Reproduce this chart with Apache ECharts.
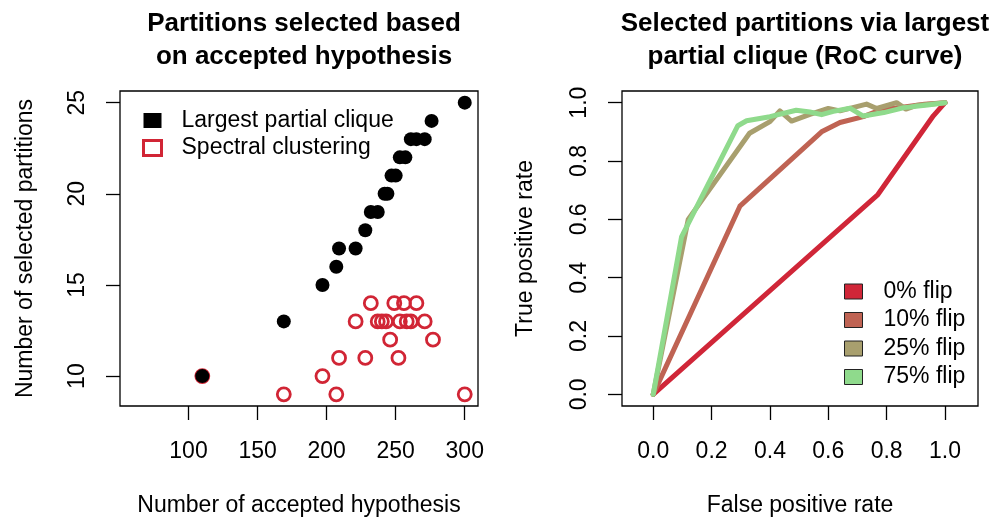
<!DOCTYPE html>
<html>
<head>
<meta charset="utf-8">
<script src="https://cdn.jsdelivr.net/npm/echarts@6/dist/echarts.min.js"></script>
<style>
  html, body { margin: 0; padding: 0; background: #fff; }
  #chart { width: 1002px; height: 519px; }
</style>
</head>
<body>
<div id="chart"></div>
<script>
// left panel: selected partitions vs accepted hypothesis
const cliqueX = [300, 276, 261, 265, 271, 253, 257, 247, 250, 242, 244, 232, 237, 228, 209, 221, 207, 197, 169, 110];
const cliqueY = [25, 24, 23, 23, 23, 22, 22, 21, 21, 20, 20, 19, 19, 18, 17, 17, 16, 15, 13, 10];
const spectralX = [232, 249, 256, 265, 221, 237, 240, 243, 253, 258, 261, 271, 246, 277, 209, 228, 252, 110, 197, 169, 207, 300];
const spectralY = [14, 14, 14, 14, 13, 13, 13, 13, 13, 13, 13, 13, 12, 12, 11, 11, 11, 10, 10, 9, 9, 9];

// right panel: RoC curves
const flip0Fpr = [0, 0.77, 0.96, 1];
const flip0Tpr = [0, 0.685, 0.955, 1];
const flip10Fpr = [0, 0.297, 0.577, 0.64, 0.72, 0.78, 0.86, 0.93, 1];
const flip10Tpr = [0, 0.645, 0.9, 0.932, 0.952, 0.975, 0.985, 0.995, 1];
const flip25Fpr = [0, 0.12, 0.33, 0.4, 0.434, 0.474, 0.537, 0.6, 0.64, 0.731, 0.766, 0.834, 0.866, 0.9, 1];
const flip25Tpr = [0, 0.6, 0.895, 0.935, 0.972, 0.937, 0.96, 0.98, 0.972, 0.995, 0.98, 1.0, 0.978, 0.99, 1];
const flip75Fpr = [0, 0.097, 0.29, 0.32, 0.4, 0.49, 0.537, 0.577, 0.617, 0.674, 0.72, 0.79, 0.86, 0.94, 1];
const flip75Tpr = [0, 0.54, 0.921, 0.938, 0.952, 0.974, 0.968, 0.959, 0.97, 0.981, 0.954, 0.966, 0.983, 0.992, 1];

const leftXTicks = [100, 150, 200, 250, 300];
const leftYTicks = [10, 15, 20, 25];
const rocTicks = [0, 0.2, 0.4, 0.6, 0.8, 1];

const flipNames = ['0% flip', '10% flip', '25% flip', '75% flip'];
const flipColors = ['#D02638', '#BF6353', '#A89F6E', '#8FDA8C'];

const FONT = '"Liberation Sans", Arial, Helvetica, sans-serif';
const RED = '#D12535';

const zip = (xs, ys) => xs.map((x, i) => [x, ys[i]]);

const chart = echarts.init(document.getElementById('chart'), null, { renderer: 'canvas' });

function axisBase(extra) {
  return Object.assign({
    type: 'value',
    axisLine: { show: false, onZero: false },
    splitLine: { show: false },
    nameLocation: 'middle',
    nameTextStyle: { fontSize: 23, color: '#000', fontFamily: FONT },
  }, extra);
}

function tickStyle(values) {
  return { show: true, inside: false, length: 14, customValues: values, lineStyle: { color: '#000', width: 1.3 } };
}

function labelStyle(extra) {
  return Object.assign({ fontSize: 23, color: '#000', fontFamily: FONT }, extra);
}

const rocFmt = (v) => v.toFixed(1);

const option = {
  animation: false,
  backgroundColor: '#fff',
  textStyle: { fontFamily: FONT },
  title: [
    {
      text: 'Partitions selected based\non accepted hypothesis',
      left: 299, top: 2, textAlign: 'center',
      textStyle: { fontSize: 26, fontWeight: 'bold', color: '#000', lineHeight: 33, fontFamily: FONT },
    },
    {
      text: 'Selected partitions via largest\npartial clique (RoC curve)',
      left: 800, top: 2, textAlign: 'center',
      textStyle: { fontSize: 26, fontWeight: 'bold', color: '#000', lineHeight: 33, fontFamily: FONT },
    },
  ],
  grid: [
    { left: 120, top: 91, width: 358, height: 315, show: true, borderColor: '#000', borderWidth: 1.3, outerBoundsMode: 'none', containLabel: false },
    { left: 622, top: 91, width: 356, height: 315, show: true, borderColor: '#000', borderWidth: 1.3, outerBoundsMode: 'none', containLabel: false },
  ],
  legend: [
    {
      orient: 'vertical', left: 142, top: 109, padding: 0, itemGap: 4.5,
      itemWidth: 18, itemHeight: 15,
      textStyle: labelStyle({ padding: [0, 0, 0, 15] }),
      data: [
        { name: 'Largest partial clique', icon: 'rect', itemStyle: { color: '#000', borderWidth: 0 } },
        { name: 'Spectral clustering', icon: 'rect', itemStyle: { color: '#fff', borderColor: RED, borderWidth: 3 } },
      ],
    },
    {
      orient: 'vertical', left: 844, top: 280, padding: 0, itemGap: 5.5,
      itemWidth: 18, itemHeight: 15,
      textStyle: labelStyle({ padding: [0, 0, 0, 16] }),
      data: flipNames.map((n, i) => ({
        name: n, icon: 'rect',
        itemStyle: { color: flipColors[i], borderColor: '#222', borderWidth: 1 },
      })),
    },
  ],
  xAxis: [
    axisBase({
      gridIndex: 0, min: 50.4, max: 309.6,
      name: 'Number of accepted hypothesis', nameGap: 88,
      axisTick: tickStyle(leftXTicks),
      axisLabel: labelStyle({ margin: 34, customValues: leftXTicks }),
    }),
    axisBase({
      gridIndex: 1, min: -0.107, max: 1.113,
      name: 'False positive rate', nameGap: 88,
      axisTick: tickStyle(rocTicks),
      axisLabel: labelStyle({ margin: 34, customValues: rocTicks, formatter: rocFmt }),
    }),
  ],
  yAxis: [
    axisBase({
      gridIndex: 0, min: 8.36, max: 25.64,
      name: 'Number of selected partitions', nameGap: 83,
      axisTick: tickStyle(leftYTicks),
      axisLabel: labelStyle({ margin: 31, rotate: 90, customValues: leftYTicks }),
    }),
    axisBase({
      gridIndex: 1, min: -0.04, max: 1.04,
      name: 'True positive rate', nameGap: 85,
      axisTick: tickStyle(rocTicks),
      axisLabel: labelStyle({ margin: 31, rotate: 90, customValues: rocTicks, formatter: rocFmt }),
    }),
  ],
  series: [
    {
      name: 'Spectral clustering', type: 'scatter', xAxisIndex: 0, yAxisIndex: 0,
      symbol: 'circle', symbolSize: 13, z: 2,
      itemStyle: { color: 'rgba(0,0,0,0)', borderColor: RED, borderWidth: 2.8, opacity: 1 },
      data: zip(spectralX, spectralY),
    },
    {
      name: 'Largest partial clique', type: 'scatter', xAxisIndex: 0, yAxisIndex: 0,
      symbol: 'circle', symbolSize: 14, z: 3,
      itemStyle: { color: '#000', opacity: 1 },
      data: zip(cliqueX, cliqueY),
    },
  ].concat([
    [flip0Fpr, flip0Tpr], [flip10Fpr, flip10Tpr], [flip25Fpr, flip25Tpr], [flip75Fpr, flip75Tpr],
  ].map(([xs, ys], i) => ({
    name: flipNames[i], type: 'line', xAxisIndex: 1, yAxisIndex: 1,
    showSymbol: false, symbol: 'none', z: 2 + i,
    itemStyle: { color: flipColors[i] },
    lineStyle: { color: flipColors[i], width: 5, cap: 'round', join: 'round' },
    data: zip(xs, ys),
  }))),
};

chart.setOption(option);
</script>
</body>
</html>
